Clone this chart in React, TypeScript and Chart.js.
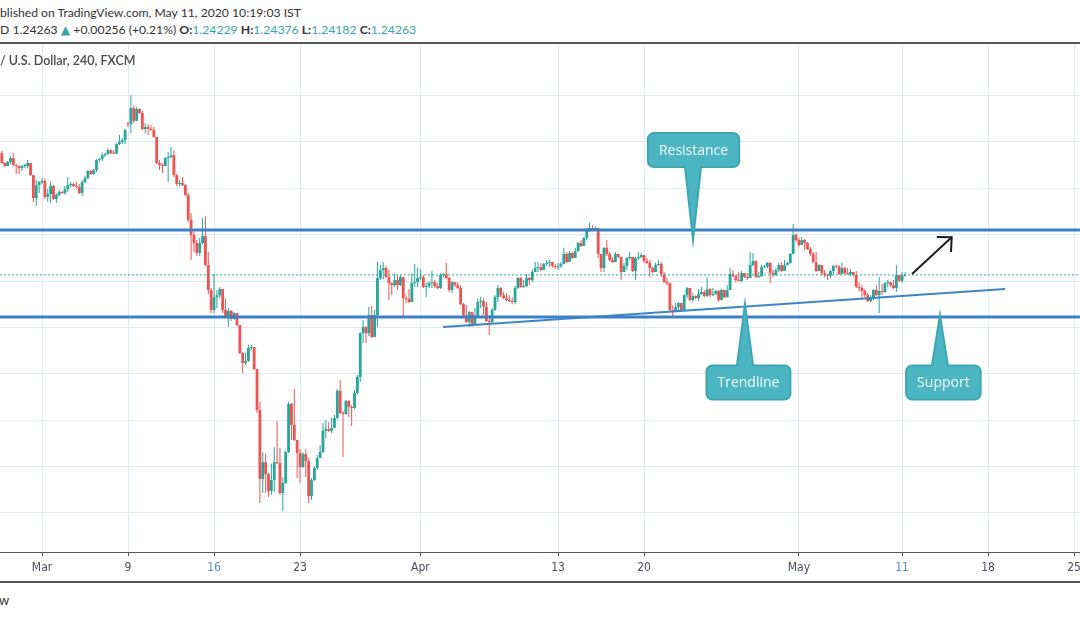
import { useEffect, useRef } from "react";
import { Chart, registerables } from "chart.js";

Chart.register(...registerables);

// ---- OHLC data (GBP/USD, 240 min) ----
const firstOpen = 1.2952;
const gapOpens: [number, number][] = [[44, 1.3078]];

const closes = [
  1.2909, 1.2896, 1.2913, 1.293, 1.29, 1.2896, 1.2887, 1.2896, 1.2896, 1.2909,
  1.2857, 1.2758, 1.2814, 1.2827, 1.2832, 1.2763, 1.2776, 1.281, 1.2754, 1.2771,
  1.2784, 1.278, 1.2797, 1.2814, 1.2819, 1.281, 1.2806, 1.278, 1.2827, 1.2844,
  1.2875, 1.2862, 1.2879, 1.2922, 1.2926, 1.2943, 1.2948, 1.2965, 1.2952, 1.295,
  1.2991, 1.3, 1.3008, 1.3052, 1.3076, 1.3146, 1.3091, 1.3142, 1.3125, 1.3056,
  1.3065, 1.3056, 1.3052, 1.3022, 1.2909, 1.29, 1.2896, 1.293, 1.2935, 1.2943,
  1.2857, 1.2819, 1.2823, 1.2814, 1.2771, 1.2663, 1.2598, 1.2564, 1.2521, 1.2564,
  1.2594, 1.2469, 1.2361, 1.2275, 1.233, 1.2339, 1.2365, 1.2275, 1.2245, 1.2271,
  1.2236, 1.2262, 1.221, 1.2089, 1.2046, 1.2055, 1.2111, 1.2115, 1.202, 1.1843,
  1.1545, 1.1618, 1.1567, 1.1494, 1.1541, 1.1618, 1.1614, 1.1485, 1.1528, 1.1662,
  1.1869, 1.1779, 1.1714, 1.1658, 1.1597, 1.1653, 1.1623, 1.1472, 1.1541, 1.1593,
  1.1636, 1.1662, 1.1753, 1.1761, 1.1753, 1.1766, 1.1809, 1.1926, 1.183, 1.1826,
  1.1882, 1.1856, 1.1852, 1.1917, 1.1986, 1.2175, 1.2201, 1.2175, 1.2253, 1.2158,
  1.2253, 1.2413, 1.2447, 1.2456, 1.2417, 1.2391, 1.2382, 1.2404, 1.2382, 1.2417,
  1.2326, 1.2322, 1.2309, 1.2391, 1.2395, 1.2413, 1.2417, 1.2374, 1.2378, 1.2391,
  1.2395, 1.2378, 1.237, 1.2426, 1.243, 1.2413, 1.2361, 1.2395, 1.2382, 1.237,
  1.23, 1.2253, 1.2223, 1.2266, 1.221, 1.2245, 1.2309, 1.2313, 1.2288, 1.2227,
  1.2223, 1.2275, 1.233, 1.237, 1.2339, 1.2326, 1.2318, 1.2313, 1.2309, 1.237,
  1.2413, 1.2374, 1.2378, 1.2413, 1.2404, 1.2439, 1.2456, 1.246, 1.2447, 1.2473,
  1.2478, 1.2482, 1.2465, 1.246, 1.2465, 1.2473, 1.2517, 1.2482, 1.2521, 1.2499,
  1.253, 1.2564, 1.2551, 1.2586, 1.262, 1.2629, 1.2624, 1.2629, 1.2517, 1.2456,
  1.2543, 1.2517, 1.2491, 1.2482, 1.2517, 1.2504, 1.2439, 1.2465, 1.2499, 1.2504,
  1.2443, 1.2499, 1.2503, 1.2512, 1.2486, 1.2478, 1.2456, 1.2439, 1.2469, 1.2473,
  1.243, 1.2395, 1.2391, 1.2275, 1.2266, 1.2288, 1.2305, 1.2275, 1.2339, 1.237,
  1.2318, 1.2335, 1.2326, 1.2344, 1.2352, 1.2335, 1.2365, 1.2339, 1.2344, 1.2357,
  1.2318, 1.2361, 1.233, 1.2361, 1.243, 1.2421, 1.2404, 1.24, 1.2434, 1.2417,
  1.2413, 1.2469, 1.2486, 1.2417, 1.2421, 1.246, 1.2462, 1.2478, 1.2434, 1.2426,
  1.2447, 1.2469, 1.2443, 1.2469, 1.2478, 1.2517, 1.2598, 1.2577, 1.2555, 1.2577,
  1.2564, 1.2538, 1.2517, 1.2482, 1.2443, 1.2469, 1.2434, 1.2426, 1.2423, 1.2443,
  1.2465, 1.2462, 1.243, 1.2456, 1.2434, 1.243, 1.2439, 1.2426, 1.2374, 1.237,
  1.2357, 1.2339, 1.2313, 1.233, 1.2361, 1.2339, 1.2357, 1.2352, 1.2391, 1.2395,
  1.2382, 1.237, 1.2426, 1.2401, 1.2423, 1.2426,
];

const highs = [
  1.2961, 1.2913, 1.2918, 1.2939, 1.2952, 1.2905, 1.29, 1.29, 1.2905, 1.2922,
  1.2909, 1.2857, 1.2836, 1.2832, 1.2844, 1.2844, 1.2797, 1.2827, 1.2814, 1.278,
  1.2793, 1.2789, 1.281, 1.2849, 1.2827, 1.2823, 1.2827, 1.2819, 1.2836, 1.2853,
  1.2879, 1.2879, 1.2883, 1.2926, 1.293, 1.2956, 1.2952, 1.2974, 1.2969, 1.2965,
  1.2995, 1.303, 1.3017, 1.3056, 1.3086, 1.3202, 1.3155, 1.3151, 1.3146, 1.3134,
  1.3082, 1.3078, 1.3073, 1.3065, 1.3022, 1.2922, 1.2909, 1.2935, 1.2956, 1.2978,
  1.2965, 1.2862, 1.2836, 1.2849, 1.2819, 1.278, 1.2693, 1.2611, 1.2577, 1.2586,
  1.2672, 1.268, 1.2525, 1.237, 1.243, 1.2361, 1.2374, 1.2365, 1.2326, 1.2283,
  1.2275, 1.2266, 1.2262, 1.221, 1.2094, 1.2089, 1.2124, 1.2124, 1.2115, 1.202,
  1.1878, 1.1661, 1.1657, 1.1571, 1.161, 1.1683, 1.1796, 1.1679, 1.1554, 1.1666,
  1.1878, 1.1873, 1.1934, 1.1714, 1.1675, 1.1662, 1.1675, 1.1636, 1.155, 1.1601,
  1.1649, 1.1692, 1.1787, 1.18, 1.1791, 1.1809, 1.1822, 1.1934, 1.1973, 1.1839,
  1.1886, 1.1886, 1.1865, 1.193, 1.1994, 1.2179, 1.2232, 1.2206, 1.2288, 1.2292,
  1.2275, 1.2482, 1.2469, 1.2482, 1.2465, 1.2447, 1.2395, 1.2434, 1.2426, 1.2426,
  1.2417, 1.2339, 1.2365, 1.2434, 1.2473, 1.2456, 1.2452, 1.2426, 1.2391, 1.24,
  1.2443, 1.2404, 1.2391, 1.2434, 1.2434, 1.2478, 1.2417, 1.24, 1.2395, 1.2395,
  1.2382, 1.2305, 1.2296, 1.2271, 1.2266, 1.2283, 1.2326, 1.2331, 1.2326, 1.2309,
  1.2253, 1.2283, 1.2339, 1.2382, 1.2374, 1.2352, 1.2348, 1.2339, 1.233, 1.2378,
  1.2417, 1.2417, 1.2404, 1.243, 1.2417, 1.2447, 1.2482, 1.2482, 1.2478, 1.2478,
  1.2491, 1.2491, 1.2482, 1.2473, 1.2478, 1.2482, 1.2543, 1.2525, 1.253, 1.2525,
  1.2543, 1.2568, 1.2577, 1.259, 1.2629, 1.2654, 1.2642, 1.2637, 1.2629, 1.2517,
  1.2547, 1.2577, 1.2525, 1.2504, 1.2525, 1.2517, 1.2504, 1.2478, 1.2504, 1.2525,
  1.2504, 1.2504, 1.2525, 1.2521, 1.2499, 1.2499, 1.2491, 1.246, 1.2478, 1.2491,
  1.2482, 1.2439, 1.2413, 1.2391, 1.2296, 1.2305, 1.2309, 1.2305, 1.2344, 1.2374,
  1.237, 1.2348, 1.2339, 1.2365, 1.2374, 1.2361, 1.2417, 1.237, 1.237, 1.2361,
  1.2361, 1.2365, 1.2361, 1.2382, 1.2456, 1.2447, 1.2426, 1.2439, 1.2443, 1.2434,
  1.2434, 1.2525, 1.2521, 1.2491, 1.2439, 1.2469, 1.2469, 1.2482, 1.2482, 1.2447,
  1.2456, 1.2478, 1.2482, 1.2491, 1.2482, 1.2521, 1.2646, 1.2607, 1.2586, 1.259,
  1.2581, 1.2568, 1.2547, 1.2525, 1.2525, 1.2473, 1.2447, 1.2447, 1.243, 1.2447,
  1.2469, 1.2469, 1.2469, 1.2478, 1.246, 1.2456, 1.2452, 1.2439, 1.2443, 1.2395,
  1.2382, 1.2365, 1.2348, 1.2339, 1.2365, 1.2382, 1.2417, 1.2387, 1.2395, 1.2404,
  1.2391, 1.2404, 1.2469, 1.2426, 1.2439, 1.2438,
];

const lows = [
  1.2905, 1.2892, 1.2896, 1.2905, 1.2896, 1.2862, 1.2862, 1.2875, 1.2887, 1.2887,
  1.2853, 1.2741, 1.2724, 1.278, 1.2819, 1.2754, 1.2741, 1.2737, 1.275, 1.2737,
  1.2767, 1.2776, 1.2771, 1.2784, 1.2806, 1.2806, 1.2801, 1.2776, 1.2767, 1.2823,
  1.284, 1.2857, 1.2857, 1.287, 1.2913, 1.2918, 1.2935, 1.2943, 1.2948, 1.2948,
  1.2948, 1.2987, 1.2991, 1.2991, 1.3065, 1.3039, 1.3082, 1.3091, 1.3121, 1.3052,
  1.3039, 1.303, 1.3047, 1.3017, 1.2905, 1.2879, 1.2866, 1.2896, 1.2827, 1.293,
  1.2849, 1.281, 1.281, 1.281, 1.2767, 1.2654, 1.2491, 1.2525, 1.2508, 1.2508,
  1.256, 1.2465, 1.2344, 1.2262, 1.2262, 1.2283, 1.2326, 1.2262, 1.224, 1.2201,
  1.2227, 1.2232, 1.2206, 1.2085, 1.2003, 1.2037, 1.205, 1.2102, 1.2016, 1.183,
  1.1442, 1.1485, 1.1485, 1.1468, 1.1476, 1.1489, 1.161, 1.1476, 1.1408, 1.1524,
  1.1658, 1.1714, 1.171, 1.155, 1.1528, 1.1593, 1.1554, 1.1442, 1.1455, 1.1537,
  1.1584, 1.1636, 1.1658, 1.1722, 1.1748, 1.1744, 1.1766, 1.1804, 1.1826, 1.164,
  1.1822, 1.1813, 1.1774, 1.1847, 1.1912, 1.1964, 1.2132, 1.2132, 1.2162, 1.2154,
  1.2158, 1.2201, 1.2404, 1.2408, 1.2413, 1.2318, 1.2339, 1.2374, 1.2361, 1.2378,
  1.2244, 1.2305, 1.2305, 1.2309, 1.2374, 1.2374, 1.2404, 1.237, 1.233, 1.237,
  1.237, 1.237, 1.2365, 1.2365, 1.2417, 1.2408, 1.2352, 1.2348, 1.2374, 1.2365,
  1.2296, 1.2244, 1.2219, 1.2201, 1.2201, 1.221, 1.224, 1.2283, 1.2253, 1.2223,
  1.2167, 1.2219, 1.2271, 1.2309, 1.233, 1.2322, 1.2313, 1.2309, 1.23, 1.23,
  1.2365, 1.237, 1.237, 1.2374, 1.2382, 1.2395, 1.2452, 1.2439, 1.2443, 1.2447,
  1.2465, 1.246, 1.2456, 1.2452, 1.2447, 1.2456, 1.2473, 1.2478, 1.2482, 1.2495,
  1.2499, 1.2525, 1.2547, 1.2551, 1.2577, 1.2611, 1.2616, 1.2616, 1.2499, 1.2439,
  1.2439, 1.2508, 1.2482, 1.2478, 1.2482, 1.2499, 1.2404, 1.2439, 1.2447, 1.2491,
  1.2439, 1.2404, 1.2491, 1.2499, 1.2478, 1.2473, 1.2417, 1.2434, 1.2439, 1.2465,
  1.2417, 1.2391, 1.2382, 1.2266, 1.2244, 1.2266, 1.2266, 1.2271, 1.2275, 1.2326,
  1.2313, 1.2309, 1.2322, 1.2313, 1.2339, 1.233, 1.233, 1.233, 1.2335, 1.2339,
  1.2309, 1.2318, 1.2326, 1.233, 1.2361, 1.2417, 1.2395, 1.24, 1.2395, 1.2413,
  1.2404, 1.2413, 1.2465, 1.2413, 1.2413, 1.2417, 1.2456, 1.2456, 1.2391, 1.2417,
  1.2421, 1.2439, 1.2439, 1.2443, 1.2469, 1.2473, 1.2517, 1.2568, 1.2547, 1.2564,
  1.2534, 1.2534, 1.2508, 1.2478, 1.2439, 1.2447, 1.2426, 1.2417, 1.2404, 1.2413,
  1.243, 1.2456, 1.2426, 1.243, 1.243, 1.2426, 1.2421, 1.2421, 1.237, 1.2357,
  1.233, 1.233, 1.2309, 1.2309, 1.2318, 1.2335, 1.2262, 1.2339, 1.2348, 1.2374,
  1.2374, 1.2365, 1.2352, 1.2395, 1.2391, 1.2418,
];

// ---- time axis (bar index of the first bar of each labelled day) ----
const tickPositions = [14, 44, 74, 104, 146, 194, 224, 278, 314, 344, 374];
const tickLabels = ["Mar", "9", "16", "23", "Apr", "13", "20", "May", "11", "18", "25"];
const highlightedTickLabels = ["16", "11"];

// ---- drawings ----
const resistanceLevel = 1.262;
const supportLevel = 1.2245;
const lastPrice = 1.24263;
const trendlineX = [153.9, 349.9];
const trendlineY = [1.2201, 1.2365];
const arrowShaftX = [317.45, 331.3];
const arrowShaftY = [1.243, 1.2589];
const arrowHeadX = [326.1, 331.3, 331.05];
const arrowHeadY = [1.259, 1.2589, 1.2525];

const calloutTexts = ["Resistance", "Trendline", "Support"];
const calloutBoxX = [241.25, 260.4, 328.4];
const calloutBoxY = [1.2965, 1.1962, 1.1962];
const calloutTipX = [241.07, 259.2, 327.2];
const calloutTipY = [1.2577, 1.2301, 1.2253];

// ---- view range ----
const xMin = -0.65;
const xMax = 376.05;
const yMin = 1.12304;
const yMax = 1.34272;

const UP = "#26a69a";
const DOWN = "#ef5350";
const GRID = "#e1e9f0";
const LEVEL = "#3d80c6";
const AXIS_TEXT = "#4a4f5c";
const AXIS_HL = "#5a8fc2";

function roundedCallout(
  ctx: CanvasRenderingContext2D,
  l: number, t: number, w: number, h: number, r: number,
  tx: number, ty: number, hw: number
) {
  const rr = l + w;
  const b = t + h;
  const px = Math.min(Math.max(tx, l + r + hw), rr - r - hw);
  ctx.beginPath();
  ctx.moveTo(l + r, t);
  if (ty < t) {
    ctx.lineTo(px - hw, t);
    ctx.lineTo(tx, ty);
    ctx.lineTo(px + hw, t);
  }
  ctx.lineTo(rr - r, t);
  ctx.arcTo(rr, t, rr, t + r, r);
  ctx.lineTo(rr, b - r);
  ctx.arcTo(rr, b, rr - r, b, r);
  if (ty > b) {
    ctx.lineTo(px + hw, b);
    ctx.lineTo(tx, ty);
    ctx.lineTo(px - hw, b);
  }
  ctx.lineTo(l + r, b);
  ctx.arcTo(l, b, l, b - r, r);
  ctx.lineTo(l, t + r);
  ctx.arcTo(l, t, l + r, t, r);
  ctx.closePath();
}

const calloutPlugin = {
  id: "callouts",
  afterDatasetsDraw(chart: any) {
    const { ctx, scales } = chart;
    const xs = scales.x;
    const ys = scales.y;
    ctx.save();
    ctx.font = "14px 'Open Sans', 'DejaVu Sans', sans-serif";
    calloutTexts.forEach((text, i) => {
      const cx = xs.getPixelForValue(calloutBoxX[i]);
      const cy = ys.getPixelForValue(calloutBoxY[i]);
      const tx = xs.getPixelForValue(calloutTipX[i]);
      const ty = ys.getPixelForValue(calloutTipY[i]);
      const w = ctx.measureText(text).width + 22;
      const h = 34;
      roundedCallout(ctx, cx - w / 2, cy - h / 2, w, h, 6, tx, ty, 8);
      ctx.fillStyle = "#4bb5c1";
      ctx.fill();
      ctx.lineWidth = 2;
      ctx.strokeStyle = "#3ca7b3";
      ctx.stroke();
      ctx.fillStyle = "#f4fbfb";
      ctx.textAlign = "center";
      ctx.textBaseline = "middle";
      ctx.fillText(text, cx, cy + 1);
    });
    ctx.restore();
  },
};

export default function App() {
  const canvasRef = useRef<HTMLCanvasElement>(null);

  useEffect(() => {
    const n = Math.min(closes.length, highs.length, lows.length);
    const opens: number[] = [];
    for (let i = 0; i < n; i++) opens.push(i === 0 ? firstOpen : closes[i - 1]);
    gapOpens.forEach(([i, v]) => {
      if (i < n) opens[i] = v;
    });
    const colors: string[] = [];
    const bodies: any[] = [];
    const wicks: any[] = [];
    for (let i = 0; i < n; i++) {
      const o = opens[i];
      const c = closes[i];
      colors.push(c >= o ? UP : DOWN);
      bodies.push({ x: i, y: [o, c] });
      wicks.push({ x: i, y: [Math.min(lows[i], o, c), Math.max(highs[i], o, c)] });
    }

    const lineBase = { type: "line", pointRadius: 0, fill: false, tension: 0 };

    const chart = new Chart(canvasRef.current as HTMLCanvasElement, {
      type: "bar",
      data: {
        datasets: [
          {
            ...lineBase,
            label: "Resistance",
            data: [{ x: xMin, y: resistanceLevel }, { x: xMax, y: resistanceLevel }],
            borderColor: LEVEL,
            borderWidth: 3,
            order: 1,
          } as any,
          {
            ...lineBase,
            label: "Support",
            data: [{ x: xMin, y: supportLevel }, { x: xMax, y: supportLevel }],
            borderColor: LEVEL,
            borderWidth: 3,
            order: 1,
          } as any,
          {
            ...lineBase,
            label: "Trendline",
            data: trendlineX.map((x, i) => ({ x, y: trendlineY[i] })),
            borderColor: "#3d85c8",
            borderWidth: 2,
            order: 1,
          } as any,
          {
            ...lineBase,
            label: "Last price",
            data: [{ x: xMin, y: lastPrice }, { x: xMax, y: lastPrice }],
            borderColor: UP,
            borderWidth: 1,
            borderDash: [2, 2],
            order: 2,
          } as any,
          {
            ...lineBase,
            label: "Arrow",
            data: arrowShaftX.map((x, i) => ({ x, y: arrowShaftY[i] })),
            borderColor: "#1b1b1b",
            borderWidth: 2,
            order: 1,
          } as any,
          {
            ...lineBase,
            label: "Arrow head",
            data: arrowHeadX.map((x, i) => ({ x, y: arrowHeadY[i] })),
            borderColor: "#1b1b1b",
            borderWidth: 2,
            borderJoinStyle: "miter",
            order: 1,
          } as any,
          {
            type: "bar",
            label: "Wicks",
            data: wicks,
            backgroundColor: colors,
            borderWidth: 0,
            barThickness: 1,
            grouped: false,
            inflateAmount: 0,
            order: 6,
          } as any,
          {
            type: "bar",
            label: "Bodies",
            data: bodies,
            backgroundColor: colors,
            borderWidth: 0,
            barThickness: 2.8,
            minBarLength: 1,
            grouped: false,
            inflateAmount: 0,
            order: 5,
          } as any,
        ],
      },
      options: {
        animation: false,
        responsive: true,
        maintainAspectRatio: false,
        layout: { padding: 0 },
        plugins: { legend: { display: false }, tooltip: { enabled: false } },
        scales: {
          x: {
            type: "linear",
            min: xMin,
            max: xMax,
            offset: false,
            afterBuildTicks: (s: any) => {
              s.ticks = tickPositions.map((v) => ({ value: v }));
            },
            afterFit: (s: any) => {
              s.height = 29;
              s.paddingLeft = 0;
              s.paddingRight = 0;
            },
            ticks: {
              autoSkip: false,
              maxRotation: 0,
              padding: 5,
              font: {
                family: "'Liberation Sans Narrow', 'DejaVu Sans Condensed', 'Liberation Sans', sans-serif",
                size: 12,
              },
              color: (c: any) =>
                highlightedTickLabels.includes(tickLabels[c.index]) ? AXIS_HL : AXIS_TEXT,
              callback: (_v: any, i: number) => tickLabels[i],
            },
            grid: { color: GRID, lineWidth: 1, tickLength: 4, tickColor: "#555", offset: false },
            border: { color: "#555", width: 1 },
          } as any,
          y: {
            type: "linear",
            min: yMin,
            max: yMax,
            afterFit: (s: any) => {
              s.width = 0;
              s.paddingTop = 0;
              s.paddingBottom = 0;
            },
            ticks: { display: false, stepSize: 0.02 },
            grid: { color: GRID, lineWidth: 1, drawTicks: false },
            border: { display: false },
          } as any,
        },
      },
      plugins: [calloutPlugin],
    } as any);
    return () => chart.destroy();
  }, []);

  const teal = "#36a7a8";
  const headerFont = "Lato, 'Open Sans', 'DejaVu Sans', sans-serif";

  return (
    <div
      style={{
        position: "absolute",
        left: 0,
        top: 0,
        width: 1080,
        height: 618,
        background: "#fff",
        overflow: "hidden",
        fontFamily: headerFont,
      }}
    >
      <div style={{ position: "absolute", left: 0, top: 43, width: 1080, height: 538 }}>
        <canvas ref={canvasRef} />
      </div>
      <div
        style={{
          position: "absolute", left: 0, top: 4, fontSize: 12.2, lineHeight: "18px",
          color: "#333", whiteSpace: "nowrap",
        }}
      >
        blished on TradingView.com, May 11, 2020 10:19:03 IST
      </div>
      <div
        style={{
          position: "absolute", left: 0, top: 21, fontSize: 12.2, lineHeight: "18px",
          color: "#333", whiteSpace: "nowrap",
        }}
      >
        <span>D 1.24263 </span>
        <span style={{ color: teal }}>▲</span>
        <span> +0.00256 (+0.21%) </span>
        <b>O:</b><span style={{ color: teal }}>1.24229</span>{" "}
        <b>H:</b><span style={{ color: teal }}>1.24376</span>{" "}
        <b>L:</b><span style={{ color: teal }}>1.24182</span>{" "}
        <b>C:</b><span style={{ color: teal }}>1.24263</span>
      </div>
      <div style={{ position: "absolute", left: 0, top: 42, width: 1080, height: 1.5, background: "#555" }} />
      <div
        style={{
          position: "absolute", left: 0, top: 52, fontSize: 12.5, lineHeight: "18px",
          color: "#4a4a4a", whiteSpace: "nowrap", fontWeight: 600,
        }}
      >
        / U.S. Dollar, 240, FXCM
      </div>
      <div style={{ position: "absolute", left: 0, top: 581, width: 1080, height: 1.5, background: "#555" }} />
      <div
        style={{
          position: "absolute", left: -1, top: 591, fontSize: 13, lineHeight: "18px",
          color: "#333", whiteSpace: "nowrap",
        }}
      >
        w
      </div>
    </div>
  );
}
